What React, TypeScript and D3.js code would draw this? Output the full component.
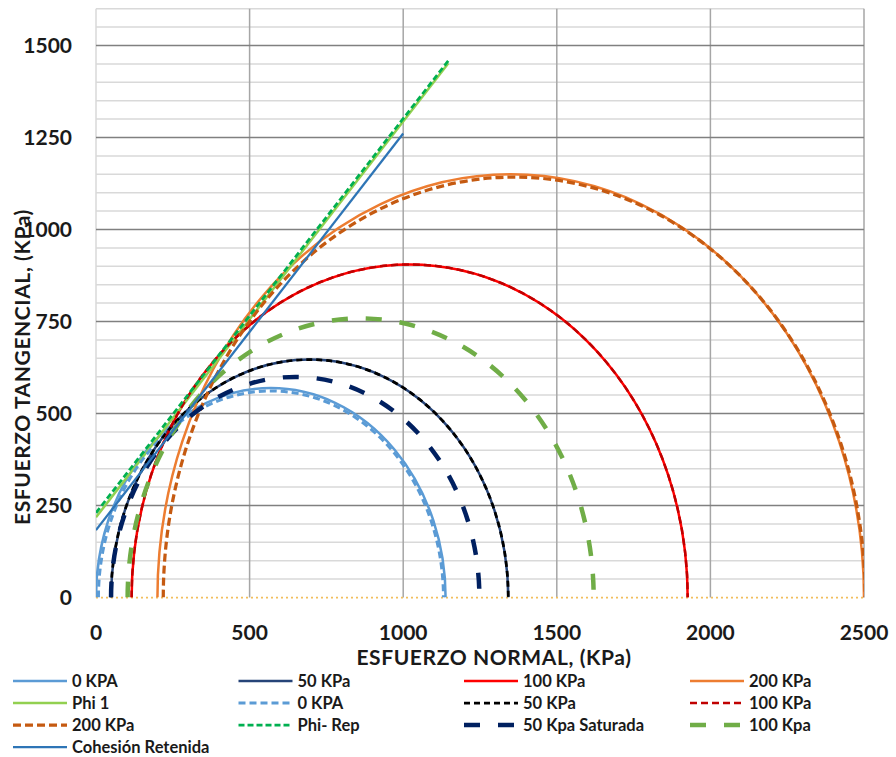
import React from "react";
import * as d3 from "d3";

// Mohr circles: sigma3 (left) and sigma1 (right), kPa
const circleNames = ["0 KPA", "50 KPa", "100 KPa", "200 KPa", "0 KPA", "50 KPa", "100 KPa", "200 KPa", "50 Kpa Saturada", "100 Kpa"];
const circleSigma3 = [0, 49, 116, 200, 8, 49, 116, 219, 49, 103];
const circleSigma1 = [1138, 1342, 1926, 2500, 1131, 1342, 1926, 2504, 1248, 1620];

// Envelope lines: start and end points
const lineNames = ["Phi 1", "Phi- Rep", "Cohesión Retenida"];
const lineStartX = [0, 0, 0];
const lineStartY = [218, 230, 183];
const lineEndX = [1147, 1150, 1000];
const lineEndY = [1452, 1462, 1261];

const xTicks = [0, 500, 1000, 1500, 2000, 2500];
const yTicks = [0, 250, 500, 750, 1000, 1250, 1500];
const yMinorTicks = d3.range(50, 1601, 50);

type Style = { color: string; width: number; dash?: string };

const circleStyles: Style[] = [
  { color: "#5B9BD5", width: 2.5 },
  { color: "#264478", width: 2.5 },
  { color: "#FF0000", width: 2.5 },
  { color: "#ED7D31", width: 2.5 },
  { color: "#5B9BD5", width: 3, dash: "7 4" },
  { color: "#000000", width: 2.75, dash: "6 4" },
  { color: "#C00000", width: 2.5, dash: "7 4" },
  { color: "#C55A11", width: 3.25, dash: "8 4" },
  { color: "#002060", width: 4.5, dash: "16 18" },
  { color: "#70AD47", width: 4.5, dash: "16 18" },
];
const lineStyles: Style[] = [
  { color: "#92D050", width: 2.5 },
  { color: "#00B050", width: 2.75, dash: "6 3" },
  { color: "#2E75B6", width: 2.25 },
];

// legend order
const legendItems: { name: string; style: Style }[] = [
  { name: circleNames[0], style: circleStyles[0] },
  { name: circleNames[1], style: circleStyles[1] },
  { name: circleNames[2], style: circleStyles[2] },
  { name: circleNames[3], style: circleStyles[3] },
  { name: lineNames[0], style: lineStyles[0] },
  { name: circleNames[4], style: circleStyles[4] },
  { name: circleNames[5], style: circleStyles[5] },
  { name: circleNames[6], style: circleStyles[6] },
  { name: circleNames[7], style: circleStyles[7] },
  { name: lineNames[1], style: lineStyles[1] },
  { name: circleNames[8], style: circleStyles[8] },
  { name: circleNames[9], style: circleStyles[9] },
  { name: lineNames[2], style: lineStyles[2] },
];

export default function App() {
  const W = 896, H = 757;
  const x = d3.scaleLinear().domain([0, 2500]).range([96, 864]);
  const y = d3.scaleLinear().domain([0, 1600]).range([597.5, 8.7]);
  const font = "Lato, 'Open Sans', sans-serif";

  const arcPath = (s3: number, s1: number) => {
    const r = (s1 - s3) / 2;
    const rx = x(r) - x(0);
    const ry = y(0) - y(r);
    return `M${x(s3)},${y(0)} A${rx},${ry} 0 0 1 ${x(s1)},${y(0)}`;
  };

  const lineGen = d3.line<[number, number]>().x(d => x(d[0])).y(d => y(d[1]));

  const series: any[] = [];
  const order: ["c" | "l", number][] = [
    ["c", 0], ["c", 1], ["c", 2], ["c", 3], ["l", 0],
    ["c", 4], ["c", 5], ["c", 6], ["c", 7], ["l", 1],
    ["c", 8], ["c", 9], ["l", 2],
  ];
  order.forEach(([t, i], k) => {
    if (t === "c") {
      const s = circleStyles[i];
      series.push(
        <path key={k} d={arcPath(circleSigma3[i], circleSigma1[i])} fill="none"
          stroke={s.color} strokeWidth={s.width} strokeDasharray={s.dash} />
      );
    } else {
      const s = lineStyles[i];
      series.push(
        <path key={k} d={lineGen([[lineStartX[i], lineStartY[i]], [lineEndX[i], lineEndY[i]]]) || ""}
          fill="none" stroke={s.color} strokeWidth={s.width} strokeDasharray={s.dash} />
      );
    }
  });

  const colX = [13, 238.5, 464, 690];
  const rowY = [681, 703, 725, 747];

  return (
    <svg width={W} height={H} style={{ position: "absolute", left: 0, top: 0, background: "#fff" }}
      fontFamily={font}>
      <defs>
        <clipPath id="plot">
          <rect x={x(0)} y={y(1600)} width={x(2500) - x(0)} height={y(0) - y(1600)} />
        </clipPath>
      </defs>
      {yMinorTicks.filter(v => v % 250 !== 0).map(v => (
        <line key={"m" + v} x1={x(0)} x2={x(2500)} y1={y(v)} y2={y(v)} stroke="#D9D9D9" strokeWidth={1.5} />
      ))}
      {xTicks.map(v => (
        <line key={"v" + v} x1={x(v)} x2={x(v)} y1={y(1600)} y2={y(0)}
          stroke={v === 0 ? "#D9D9D9" : "#A6A6A6"} strokeWidth={1.5} />
      ))}
      {yTicks.filter(v => v > 0).map(v => (
        <line key={"M" + v} x1={x(0)} x2={x(2500)} y1={y(v)} y2={y(v)} stroke="#808080" strokeWidth={1.5} />
      ))}
      <line x1={x(0)} x2={x(2500)} y1={y(0)} y2={y(0)} stroke="#F2BE5C" strokeWidth={1.75} strokeDasharray="2 3" />

      <g clipPath="url(#plot)">{series}</g>

      {yTicks.map(v => (
        <text key={"yt" + v} x={72} y={y(v)} dy="0.35em" textAnchor="end" fontSize={21} fontWeight="bold" fill="#1a1a1a">{v}</text>
      ))}
      {xTicks.map(v => (
        <text key={"xt" + v} x={x(v)} y={640} textAnchor="middle" fontSize={21} fontWeight="bold" fill="#1a1a1a">{v}</text>
      ))}
      <text x={494} y={665} textAnchor="middle" fontSize={21} fontWeight="bold" letterSpacing={0.6} fill="#1a1a1a">ESFUERZO NORMAL, (KPa)</text>
      <text transform="translate(30,367) rotate(-90)" textAnchor="middle" fontSize={21} fontWeight="bold" letterSpacing={0.6} fill="#1a1a1a">ESFUERZO TANGENCIAL, (KPa)</text>

      {legendItems.map((it, i) => {
        const cx = colX[i % 4];
        const cy = rowY[Math.floor(i / 4)];
        return (
          <g key={"lg" + i}>
            <line x1={cx} x2={cx + 54} y1={cy} y2={cy} stroke={it.style.color}
              strokeWidth={it.style.width} strokeDasharray={it.style.dash} />
            <text x={cx + 59} y={cy} dy="0.35em" fontSize={16.5} fontWeight="bold" fill="#1a1a1a">{it.name}</text>
          </g>
        );
      })}
    </svg>
  );
}
